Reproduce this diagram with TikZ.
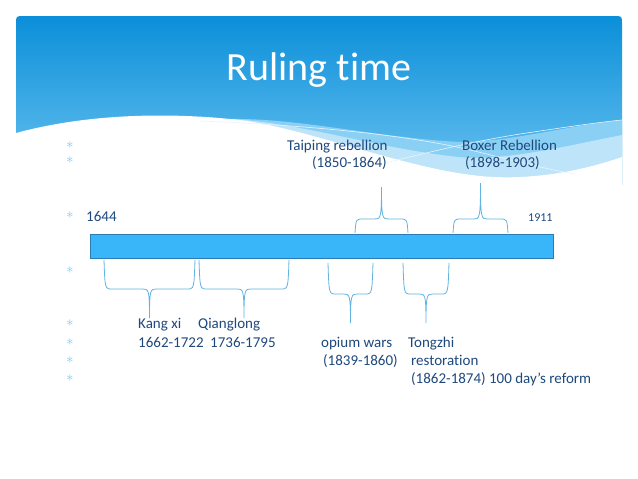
\documentclass[tikz,border=0pt]{standalone}
\usepackage{fontspec}
\setmainfont{Carlito}[Ligatures=NoCommon]
\definecolor{navy}{HTML}{1F497D}
\definecolor{hdtop}{HTML}{0B8FD9}
\definecolor{hdbot}{HTML}{6CC3F1}
\definecolor{wavemid}{HTML}{8ACFF4}
\definecolor{wavelight}{HTML}{BEE4F9}
\definecolor{waveline}{HTML}{E6F5FD}
\definecolor{barfill}{HTML}{38B6F9}
\definecolor{barline}{HTML}{2B7CB3}
\definecolor{bracecol}{HTML}{62B5E0}
\definecolor{bulletcol}{HTML}{7EC8EF}
\newcommand{\tlbrace}[5]{%
\pgfmathsetmacro\xm{(#1+#2)/2}
\draw[brc] (#1,#3) .. controls (#1+1,#4) and (#1+1,#4) .. (#1+8,#4) -- (\xm-7,#4)
  .. controls (\xm-1,#4) and (\xm,#4) .. (\xm,#5)
  .. controls (\xm,#4) and (\xm+1,#4) .. (\xm+7,#4) -- (#2-8,#4)
  .. controls (#2-1,#4) and (#2-1,#4) .. (#2,#3);}
\begin{document}
\begin{tikzpicture}[x=1pt,y=-1pt,
  lbl/.style={anchor=base west,inner sep=0pt,text=navy,font=\fontsize{15}{18}\selectfont},
  blt/.style={anchor=center,inner sep=0pt,text=bulletcol,font=\fontsize{15}{16}\selectfont},
  brc/.style={draw=bracecol,line width=0.8pt}]
\useasboundingbox (0,0) rectangle (638,479);
\fill[white] (0,0) rectangle (638,479);
\shade[top color=hdtop,bottom color=hdbot] (16,185) -- (16,24) .. controls (16,16) .. (24,16) -- (614,16)
  .. controls (622,16) .. (622,24) -- (622,185) -- cycle;
\fill[wavemid] (230,119) .. controls (300,118) and (380,138) .. (460,142)
  .. controls (510,142) and (570,125) .. (622,120) -- (622,185) -- (230,185) -- cycle;
\fill[wavelight] (230,119) .. controls (300,122) and (390,152) .. (470,158)
  .. controls (520,158) and (570,145) .. (622,135) -- (622,185) -- (230,185) -- cycle;
\fill[white] (16,133) .. controls (90,113) and (170,113) .. (230,119)
  .. controls (300,125) and (400,168) .. (480,176)
  .. controls (520,180) and (570,175) .. (622,157) -- (622,200) -- (16,200) -- cycle;
\draw[waveline,line width=0.6pt] (200,121) .. controls (330,126) and (420,138) .. (470,150)
  .. controls (520,162) and (550,170) .. (575,174);
\draw[waveline,line width=0.6pt] (385,163) .. controls (430,152) and (470,142) .. (520,134)
  .. controls (560,128) and (600,122) .. (622,120);
\node[anchor=base,inner sep=0pt,text=white,font=\fontsize{40}{44}\selectfont] (title) at (319,80) {Ruling time};
\foreach \yb [count=\i] in {145,160,215,270,323,342,360,378}
  \node[blt] (b\i) at (70,\yb) {$\ast$};
\node[lbl] (taiping) at (287,150) {Taiping rebellion};
\node[lbl] (taipingyr) at (312,167) {(1850-1864)};
\node[lbl] (boxer) at (462,150) {Boxer Rebellion};
\node[lbl] (boxeryr) at (465,167) {(1898-1903)};
\node[lbl] (start) at (86,221) {1644};
\node[lbl,font=\fontsize{12}{14}\selectfont] (finish) at (528,221) {1911};
\draw[fill=barfill,draw=barline,line width=1pt] (90,234) rectangle (553,258);
\node[inner sep=0pt,minimum width=463pt,minimum height=24pt] (bar) at (321.5,246) {};
\tlbrace{355}{408}{233}{219}{187}
\tlbrace{453}{508}{233}{219}{183}
\tlbrace{104}{195}{260}{289}{318}
\tlbrace{199}{289}{260}{289}{318}
\tlbrace{328}{373}{263}{294}{323}
\tlbrace{403}{449}{263}{294}{323}
\node[lbl] (kangxi) at (138,328) {Kang xi};
\node[lbl] (qianlong) at (198,328) {Qianglong};
\node[lbl] (kangxiyr) at (138,347) {1662-1722};
\node[lbl] (qianlongyr) at (210,347) {1736-1795};
\node[lbl] (opium) at (321,347) {opium wars};
\node[lbl] (tongzhi) at (408,347) {Tongzhi};
\node[lbl] (opiumyr) at (323,365) {(1839-1860)};
\node[lbl] (restor) at (411,365) {restoration};
\node[lbl] (reform) at (411,383) {(1862-1874) 100 day’s reform};
\end{tikzpicture}
\end{document}
